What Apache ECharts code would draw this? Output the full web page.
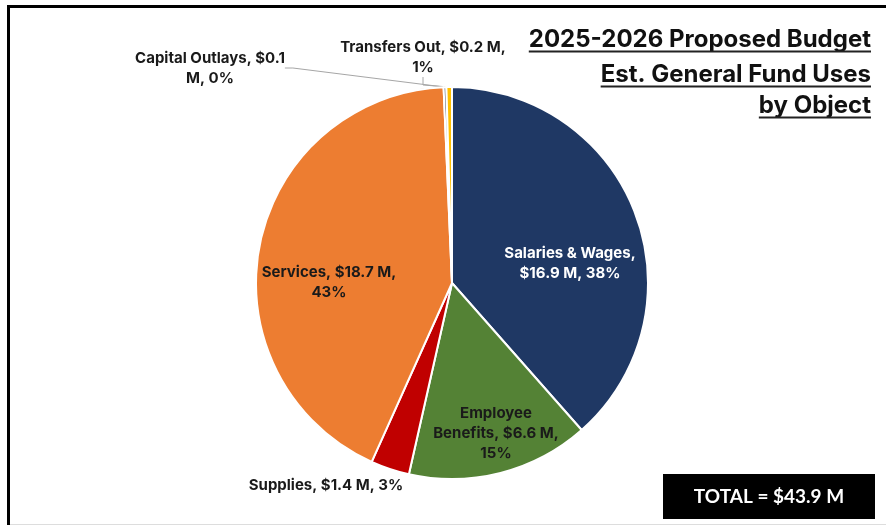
<!DOCTYPE html>
<html>
<head>
<meta charset="utf-8">
<script src="https://cdn.jsdelivr.net/npm/echarts@6/dist/echarts.min.js"></script>
<style>
  html, body { margin: 0; padding: 0; background: #ffffff; }
  #chart { width: 886px; height: 525px; }
</style>
</head>
<body>
<div id="chart"></div>
<script>
// General fund uses by object, in $ millions
const categories = ['Salaries & Wages', 'Employee Benefits', 'Supplies', 'Services', 'Capital Outlays', 'Transfers Out'];
const amounts = [16.9, 6.6, 1.4, 18.7, 0.1, 0.2];
const percentLabels = [38, 15, 3, 43, 0, 1];
const titleLines = ['2025-2026 Proposed Budget', 'Est. General Fund Uses', 'by Object'];
const totalAmount = 43.9;

// styling
const sliceColors = ['#1F3864', '#548235', '#C00000', '#ED7D31', '#44546A', '#FFC000'];
const labelColors = ['#ffffff', '#1a1a1a', '#1a1a1a', '#1a1a1a', '#1a1a1a', '#1a1a1a'];
const labelInside = [true, true, false, true, false, false];
const showLeader = [false, false, false, false, true, true];
// word index after which each label wraps onto a new line
const wrapAfter = [[2], [0, 3], [], [2], [2], [3]];
// label centres (px)
const labelCenters = [[570, 263], [496, 433], [326, 485], [329, 282], [210, 68], [423, 57]];

const FONT = 'Inter, "Open Sans", sans-serif';

function labelText(i) {
  const words = `${categories[i]}, $${amounts[i]} M, ${percentLabels[i]}%`.split(' ');
  let out = '';
  words.forEach((w, k) => {
    out += w;
    if (k < words.length - 1) out += wrapAfter[i].includes(k) ? '\n' : ' ';
  });
  return out;
}

const measureCtx = document.createElement('canvas').getContext('2d');
function textWidth(str, font) {
  measureCtx.font = font;
  return measureCtx.measureText(str).width;
}

const chart = echarts.init(document.getElementById('chart'), null, { renderer: 'canvas' });

const pieData = categories.map((name, i) => ({
  name,
  value: amounts[i],
  itemStyle: { color: sliceColors[i] },
  label: {
    position: labelInside[i] ? 'inside' : 'outside',
    color: labelColors[i],
    formatter: () => labelText(i)
  },
  labelLine: { show: showLeader[i] }
}));

// title block: right-aligned, underlined lines
const titleFontSize = 24;
const titleFont = `bold ${titleFontSize}px Inter, "Open Sans", sans-serif`;
const titleRight = 871;
const titleMid = [41, 76, 107];
const titleGraphics = [];
titleLines.forEach((t, i) => {
  titleGraphics.push({
    type: 'text',
    right: 886 - titleRight,
    top: titleMid[i] - titleFontSize / 2 - 1,
    style: {
      text: t,
      font: titleFont,
      fill: '#111111'
    }
  });
  const w = textWidth(t, titleFont);
  titleGraphics.push({
    type: 'line',
    shape: { x1: titleRight - w, y1: titleMid[i] + 10.5, x2: titleRight, y2: titleMid[i] + 10.5 },
    style: { stroke: '#222222', lineWidth: 2 }
  });
});

const option = {
  backgroundColor: '#ffffff',
  animation: false,
  graphic: [
    // frame lines along the top and left edges, faint rule at the bottom
    {
      type: 'polyline',
      shape: { points: [[8.5, 525], [8.5, 6.5], [886, 6.5]] },
      style: { stroke: '#000000', lineWidth: 3, fill: null }
    },
    {
      type: 'line',
      shape: { x1: 10, y1: 524.5, x2: 886, y2: 524.5 },
      style: { stroke: '#dddddd', lineWidth: 1 }
    },
    ...titleGraphics,
    // total box
    {
      type: 'group',
      left: 663,
      top: 474,
      children: [
        { type: 'rect', shape: { x: 0, y: 0, width: 212, height: 45 }, style: { fill: '#000000' } },
        {
          type: 'text',
          x: 106, y: 23,
          style: {
            text: `TOTAL = $${totalAmount} M`,
            font: 'bold 19px Lato, "Open Sans", sans-serif',
            fill: '#ffffff',
            align: 'center',
            verticalAlign: 'middle'
          }
        }
      ]
    }
  ],
  series: [{
    type: 'pie',
    center: [452, 283],
    radius: [0, 196],
    startAngle: 90,
    clockwise: true,
    minAngle: 0,
    avoidLabelOverlap: false,
    itemStyle: { borderColor: '#ffffff', borderWidth: 2 },
    label: {
      show: true,
      fontFamily: FONT,
      fontWeight: 'bold',
      fontSize: 15,
      lineHeight: 20,
      align: 'center'
    },
    labelLine: {
      show: false,
      length: 8,
      length2: 8,
      lineStyle: { color: '#a6a6a6', width: 1 }
    },
    labelLayout: (params) => {
      const c = labelCenters[params.dataIndex];
      return { x: c[0], y: c[1], align: 'center', verticalAlign: 'middle' };
    },
    emphasis: { disabled: true },
    data: pieData
  }]
};

chart.setOption(option);
</script>
</body>
</html>
